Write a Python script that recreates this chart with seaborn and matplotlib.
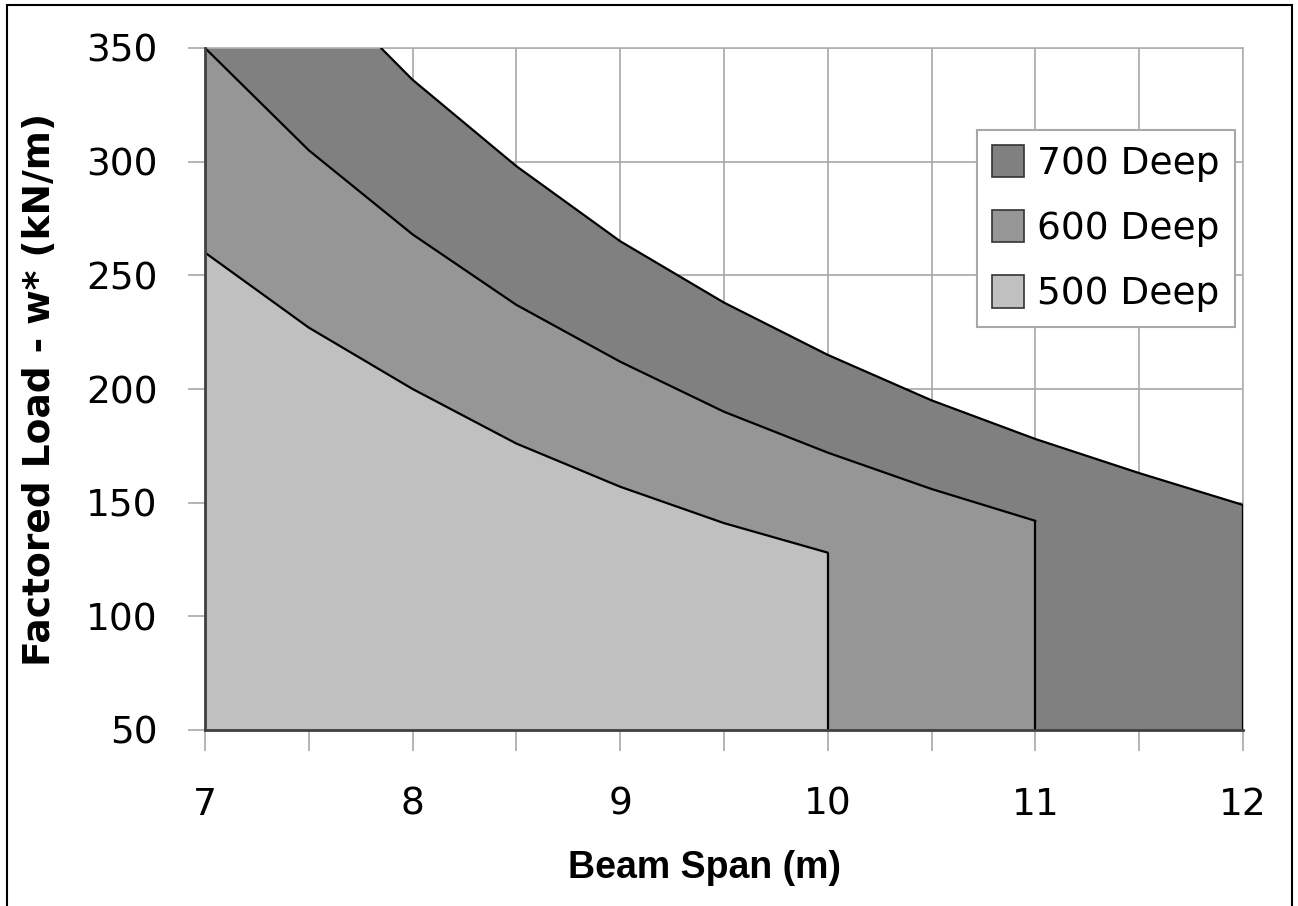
import numpy as np
import pandas as pd
import matplotlib
matplotlib.use("Agg")
import matplotlib.pyplot as plt
from matplotlib.patches import Rectangle, Patch
import seaborn as sns

# Data
span = [7.0, 7.5, 8.0, 8.5, 9.0, 9.5, 10.0, 10.5, 11.0, 11.5, 12.0]
load_700 = [439, 382, 336, 298, 265, 238, 215, 195, 178, 163, 149]
load_600 = [350, 305, 268, 237, 212, 190, 172, 156, 142]
load_500 = [260, 227, 200, 176, 157, 141, 128]

series_names = ["700 Deep", "600 Deep", "500 Deep"]
series_colors = ["#808080", "#969696", "#c0c0c0"]

x_ticks = [7.0, 7.5, 8.0, 8.5, 9.0, 9.5, 10.0, 10.5, 11.0, 11.5, 12.0]
x_labels = ["7", "", "8", "", "9", "", "10", "", "11", "", "12"]
y_ticks = [50, 100, 150, 200, 250, 300, 350]

sns.set_style("white")
plt.rcParams['font.family'] = ['DejaVu Sans']
plt.rcParams['text.color'] = 'black'
plt.rcParams['axes.labelcolor'] = 'black'

frames = []
for name, vals in zip(series_names, [load_700, load_600, load_500]):
    frames.append(pd.DataFrame({"span": span[:len(vals)], "load": vals, "depth": name}))
df = pd.concat(frames, ignore_index=True)

fig = plt.figure(figsize=(12.98, 9.06), dpi=100)
ax = fig.add_axes([205 / 1298, 1 - 730 / 906, 1038 / 1298, 682 / 906])
ax.set_axisbelow(True)

# filled areas, back to front
for name, color in zip(series_names, series_colors):
    d = df[df["depth"] == name]
    ax.fill_between(d["span"], d["load"], 0, facecolor=color, edgecolor="none", zorder=2)

# outlines
sns.lineplot(data=df, x="span", y="load", hue="depth", palette=["black"] * 3,
             linewidth=1.6, legend=False, ax=ax, zorder=3, sort=False)
for name in series_names:
    d = df[df["depth"] == name]
    ax.vlines(d["span"].iloc[-1], 0, d["load"].iloc[-1], color="black", linewidth=1.6, zorder=3)

ax.set_xlim(7, 12)
ax.set_ylim(50, 350)
ax.set_xticks(x_ticks)
ax.set_xticklabels(x_labels)
ax.set_yticks(y_ticks)

ax.grid(True, color="#a8a8a8", linewidth=1.2)
ax.tick_params(axis="x", bottom=True, direction="out", length=15, width=1.2, color="#a8a8a8",
               pad=26, labelsize=27, labelcolor="black")
ax.tick_params(axis="y", left=True, direction="out", length=12, width=1.2, color="#a8a8a8",
               pad=22, labelsize=27, labelcolor="black")

for s in ["left", "bottom"]:
    ax.spines[s].set_color("#404040")
    ax.spines[s].set_linewidth(2)
    ax.spines[s].set_zorder(4)
for s in ["top", "right"]:
    ax.spines[s].set_color("#b0b0b0")
    ax.spines[s].set_linewidth(1.2)

ax.set_xlabel("Beam Span (m)", family=["Liberation Sans", "DejaVu Sans"],
              fontweight="bold", fontsize=27)
ax.set_ylabel("Factored Load - w* (kN/m)", family=["DejaVu Sans"], fontweight="bold", fontsize=27)
ax.xaxis.set_label_coords(0.481, -0.176)
ax.yaxis.set_label_coords(-0.142, 0.5)

handles = [Patch(facecolor=c, edgecolor="#333333", linewidth=1.2) for c in series_colors]
leg = ax.legend(handles, series_names, loc="upper right", bbox_to_anchor=(0.992, 0.88),
                borderaxespad=0, fontsize=27, frameon=True, fancybox=False, framealpha=1,
                edgecolor="#a8a8a8", handlelength=0.85, handleheight=0.95,
                handletextpad=0.35, labelspacing=0.75, borderpad=0.4)
leg.get_frame().set_linewidth(1.5)
leg.set_zorder(5)

# outer border of the picture
fig.patches.append(Rectangle((7 / 1298, -0.01), (1292 - 7) / 1298, 1.01 - 5 / 906,
                             transform=fig.transFigure, fill=False,
                             edgecolor="black", linewidth=1.5))

fig.savefig("out.png", dpi=100)
